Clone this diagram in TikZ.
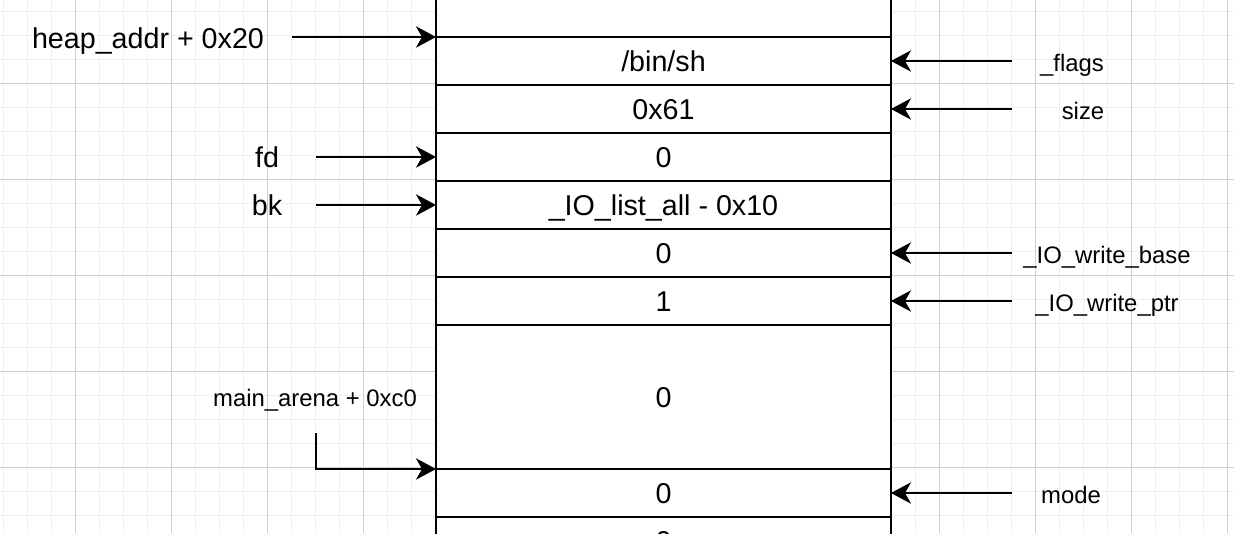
\documentclass[tikz,border=0pt]{standalone}
\usepackage{fontspec}
\setmainfont{Liberation Sans}
\usetikzlibrary{arrows.meta}

\newcommand{\bigtxtfont}{\fontsize{21.5}{24}\selectfont}
\newcommand{\smalltxtfont}{\fontsize{17.9}{20}\selectfont}

\tikzset{
  gridminor/.style={draw=black!6, line width=0.75pt},
  gridmajor/.style={draw=black!19, line width=0.75pt},
  cell/.style={draw, line width=1.5pt, fill=white, minimum width=341.25pt,
    minimum height=36pt, inner sep=0pt, outer sep=0pt, font=\bigtxtfont,
    text height=15.4pt, text depth=0pt},
  bigtxt/.style={inner sep=0pt, font=\bigtxtfont, text height=15.4pt, text depth=0pt},
  smalltxt/.style={inner sep=0pt, font=\smalltxtfont, text height=12.8pt, text depth=0pt},
  ptr/.style={-{Stealth[length=15pt,width=16pt,inset=4.5pt]}, line width=1.5pt},
}

\begin{document}
\begin{tikzpicture}[x=0.75pt,y=-0.75pt]
  \useasboundingbox (0,0) rectangle (1234,533);
  % background grid
  \foreach \i in {0,...,51} \draw[gridminor] (3+24*\i,0) -- ++(0,533);
  \foreach \i in {0,...,21} \draw[gridminor] (0,11+24*\i) -- ++(1234,0);
  \foreach \i in {0,...,12} \draw[gridmajor] (75+96*\i,0) -- ++(0,533);
  \foreach \i in {0,...,4} \draw[gridmajor] (0,83+96*\i) -- ++(1234,0);

  % the chunk
  \node[cell] (above) at (663.5,13) {};
  \node[cell] (bin) at (663.5,61) {/bin/sh};
  \node[cell] (size) at (663.5,109) {0x61};
  \node[cell] (fdval) at (663.5,157) {0};
  \node[cell] (bkval) at (663.5,205) {\_IO\_list\_all - 0x10};
  \node[cell] (wbase) at (663.5,253) {0};
  \node[cell] (wptr) at (663.5,301) {1};
  \node[cell, minimum height=108pt] (pad) at (663.5,397) {0};
  \node[cell] (mode) at (663.5,493) {0};
  \node[cell] (below) at (663.5,541) {0};

  % left side
  \node[bigtxt] (heap) at (148,38) {heap\_addr + 0x20};
  \node[bigtxt] (fd) at (267,157) {fd};
  \node[bigtxt] (bk) at (267,205) {bk};
  \node[smalltxt] (arena) at (315,398) {main\_arena + 0xc0};
  \coordinate (heapsrc) at (292,37);
  \coordinate (fdsrc) at (316,157);
  \coordinate (bksrc) at (316,205);
  \coordinate (arenasrc) at (316,433);
  \draw[ptr] (heapsrc) -- (bin.north west);
  \draw[ptr] (fdsrc) -- (fdval.west);
  \draw[ptr] (bksrc) -- (bkval.west);
  \draw[ptr] (arenasrc) |- (mode.north west);

  % right side
  \node[smalltxt] (flagsl) at (1072,63) {\_flags};
  \node[smalltxt] (sizel) at (1083,111) {size};
  \node[smalltxt] (wbasel) at (1107,255) {\_IO\_write\_base};
  \node[smalltxt] (wptrl) at (1107,303) {\_IO\_write\_ptr};
  \node[smalltxt] (model) at (1071,495) {mode};
  \coordinate (flagsrc) at (1012,61);
  \coordinate (sizesrc) at (1012,109);
  \coordinate (wbasesrc) at (1012,253);
  \coordinate (wptrsrc) at (1012,301);
  \coordinate (modesrc) at (1012,493);
  \draw[ptr] (flagsrc) -- (bin.east);
  \draw[ptr] (sizesrc) -- (size.east);
  \draw[ptr] (wbasesrc) -- (wbase.east);
  \draw[ptr] (wptrsrc) -- (wptr.east);
  \draw[ptr] (modesrc) -- (mode.east);
\end{tikzpicture}
\end{document}
